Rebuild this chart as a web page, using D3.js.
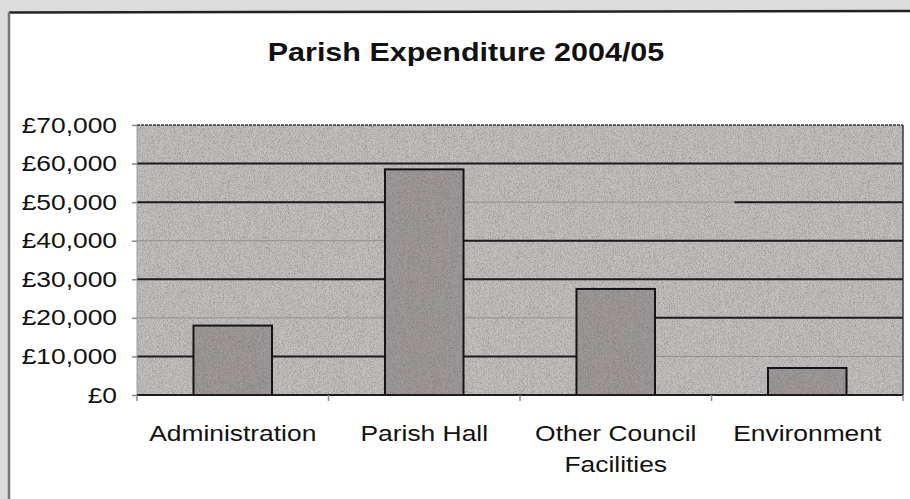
<!DOCTYPE html>
<html>
<head>
<meta charset="utf-8">
<script src="https://cdn.jsdelivr.net/npm/d3@7"></script>
<style>
  body { margin: 0; background: #dcdcdc; }
  svg { display: block; }
  text { font-family: "Liberation Sans", Arial, sans-serif; fill: #111; }
</style>
</head>
<body>
<svg id="chart"></svg>
<script>
const categories = ['Administration', 'Parish Hall', 'Other Council Facilities', 'Environment'];
const categoryLabels = [['Administration'], ['Parish Hall'], ['Other Council', 'Facilities'], ['Environment']];
const expenditure = [18000, 58500, 27500, 7000];
const yTicks = [0, 10000, 20000, 30000, 40000, 50000, 60000, 70000];
const chartTitle = 'Parish Expenditure 2004/05';

// the scanned gridlines are only dark in parts: [value, from, to] as share of the plot width
const darkGrid = [[60000, 0, 1], [50000, 0, 0.33], [50000, 0.78, 1], [40000, 0.42, 1],
                  [30000, 0, 1], [20000, 0.67, 1], [10000, 0, 0.58]];

class ScanBarChart {
    constructor (config, data) {
        this.config = {
            parent: config.parent,
            width: config.width || 910,
            height: config.height || 499,
            margin: config.margin || {top: 125, right: 7, bottom: 104, left: 137},
            stretch: config.stretch || 1.2
        };
        this.data = data;
        this.init();
    }

    init() {
        let self = this;

        self.svg = d3.select(self.config.parent)
            .attr('width', self.config.width)
            .attr('height', self.config.height);

        // grain texture to look like the photocopy
        const defs = self.svg.append('defs');
        const grain = defs.append('filter').attr('id', 'grain')
            .attr('x', 0).attr('y', 0).attr('width', 1).attr('height', 1);
        grain.append('feTurbulence')
            .attr('type', 'fractalNoise')
            .attr('baseFrequency', '1.2 2.2')
            .attr('numOctaves', 2)
            .attr('seed', 4)
            .attr('result', 'noise');
        grain.append('feColorMatrix')
            .attr('in', 'noise')
            .attr('type', 'matrix')
            .attr('values', '0 0 0 0 0  0 0 0 0 0  0 0 0 0 0  2.2 0 0 0 -0.85')
            .attr('result', 'dots');
        grain.append('feComposite')
            .attr('in', 'dots').attr('in2', 'SourceGraphic').attr('operator', 'in');

        // paper frame
        self.svg.append('rect')
            .attr('x', 9).attr('y', 12)
            .attr('width', self.config.width - 9)
            .attr('height', self.config.height - 12)
            .attr('fill', '#fff');
        self.svg.append('line')
            .attr('x1', 9).attr('x2', self.config.width)
            .attr('y1', 12.5).attr('y2', 11)
            .attr('stroke', '#222').attr('stroke-width', 2.5);
        self.svg.append('line')
            .attr('x1', 9).attr('x2', 9)
            .attr('y1', 12).attr('y2', self.config.height)
            .attr('stroke', '#7a7474').attr('stroke-width', 2.5);

        self.inner_width = self.config.width - self.config.margin.left - self.config.margin.right;
        self.inner_height = self.config.height - self.config.margin.top - self.config.margin.bottom;

        self.chart = self.svg.append('g')
            .attr('transform', `translate(${self.config.margin.left}, ${self.config.margin.top})`);

        self.xscale = d3.scaleBand()
            .range([0, self.inner_width])
            .padding(0);

        self.yscale = d3.scaleLinear()
            .range([self.inner_height, 0]);

        self.yaxis = d3.axisLeft(self.yscale)
            .tickValues(yTicks)
            .tickSize(5)
            .tickSizeOuter(0)
            .tickFormat(d => '£' + d3.format(',')(d));

        self.xaxis = d3.axisBottom(self.xscale)
            .tickSize(0)
            .tickSizeOuter(0);

        self.svg.append('g')
            .attr('transform', `translate(466, 61) scale(1.22, 1)`)
            .append('text')
            .attr('text-anchor', 'middle')
            .style('font-size', '25px')
            .style('font-weight', 'bold')
            .text(chartTitle);
    }

    update() {
        let self = this;
        self.xscale.domain(self.data.map(d => d.category));
        self.yscale.domain([0, 70000]);
        self.render();
    }

    render() {
        let self = this;
        const w = self.inner_width, h = self.inner_height;
        const s = self.config.stretch;

        self.chart.append('rect')
            .attr('width', w).attr('height', h)
            .attr('fill', '#c6c1c1');
        self.chart.append('rect')
            .attr('width', w).attr('height', h)
            .attr('fill', '#fff')
            .attr('opacity', 0.22)
            .attr('filter', 'url(#grain)');

        // faint gridlines everywhere
        self.chart.selectAll('.grid')
            .data(yTicks.slice(1, -1))
            .join('line')
            .attr('class', 'grid')
            .attr('x1', 0).attr('x2', w)
            .attr('y1', d => self.yscale(d)).attr('y2', d => self.yscale(d))
            .attr('stroke', '#959090').attr('stroke-width', 1);

        self.chart.selectAll('.dark-grid')
            .data(darkGrid)
            .join('line')
            .attr('class', 'dark-grid')
            .attr('x1', d => d[1] * w).attr('x2', d => d[2] * w)
            .attr('y1', d => self.yscale(d[0])).attr('y2', d => self.yscale(d[0]))
            .attr('stroke', '#1d1b1b').attr('stroke-width', 2);

        // plot border
        self.chart.append('line')
            .attr('x1', 0).attr('x2', w).attr('y1', 0).attr('y2', 0)
            .attr('stroke', '#3a3737').attr('stroke-width', 1.5)
            .attr('stroke-dasharray', '3 1');
        self.chart.append('line')
            .attr('x1', w).attr('x2', w).attr('y1', 0).attr('y2', h)
            .attr('stroke', '#3a3737').attr('stroke-width', 1.5);
        self.chart.append('line')
            .attr('x1', 0).attr('x2', 0).attr('y1', 0).attr('y2', h)
            .attr('stroke', '#a29d9d').attr('stroke-width', 1);

        const barw = self.xscale.bandwidth() * 0.41;
        self.chart.selectAll('.bar')
            .data(self.data)
            .join('rect')
            .attr('class', 'bar')
            .attr('x', d => self.xscale(d.category) + (self.xscale.bandwidth() - barw) / 2)
            .attr('y', d => self.yscale(d.value))
            .attr('width', barw)
            .attr('height', d => h - self.yscale(d.value))
            .attr('fill', '#a09a9a')
            .attr('stroke', '#151313')
            .attr('stroke-width', 2);
        self.chart.selectAll('.bar-grain')
            .data(self.data)
            .join('rect')
            .attr('class', 'bar-grain')
            .attr('x', d => self.xscale(d.category) + (self.xscale.bandwidth() - barw) / 2 + 1)
            .attr('y', d => self.yscale(d.value) + 1)
            .attr('width', barw - 2)
            .attr('height', d => h - self.yscale(d.value) - 2)
            .attr('fill', '#000')
            .attr('opacity', 0.18)
            .attr('filter', 'url(#grain)');

        // bottom axis line and category boundary ticks
        self.chart.append('line')
            .attr('x1', 0).attr('x2', w).attr('y1', h).attr('y2', h)
            .attr('stroke', '#1d1b1b').attr('stroke-width', 2);
        const bounds = self.data.map(d => self.xscale(d.category)).concat([w]);
        self.chart.selectAll('.xtick')
            .data(bounds)
            .join('line')
            .attr('class', 'xtick')
            .attr('x1', d => d).attr('x2', d => d)
            .attr('y1', h).attr('y2', h + 6)
            .attr('stroke', '#8d8888').attr('stroke-width', 1.5);

        const yg = self.chart.append('g').call(self.yaxis);
        yg.select('.domain').remove();
        yg.selectAll('.tick line').attr('stroke', '#8d8888').attr('stroke-width', 1.5);
        yg.selectAll('.tick text')
            .attr('x', -20 / s)
            .attr('transform', `scale(${s}, 1)`)
            .style('font-size', '22px')
            .attr('fill', '#111');

        const xg = self.chart.append('g')
            .attr('transform', `translate(0, ${h})`)
            .call(self.xaxis);
        xg.select('.domain').remove();
        xg.selectAll('.tick text').each(function (d, i) {
            const t = d3.select(this)
                .text(null)
                .attr('y', 0).attr('dy', null)
                .attr('transform', `scale(${s}, 1)`)
                .style('font-size', '22px')
                .attr('fill', '#111');
            categoryLabels[i].forEach((line, j) => {
                t.append('tspan').attr('x', 0).attr('y', 46 + j * 31).text(line);
            });
        });
    }
}

const data = categories.map((c, i) => ({category: c, value: expenditure[i]}));
const chart = new ScanBarChart({parent: '#chart', width: 910, height: 499}, data);
chart.update();
</script>
</body>
</html>
